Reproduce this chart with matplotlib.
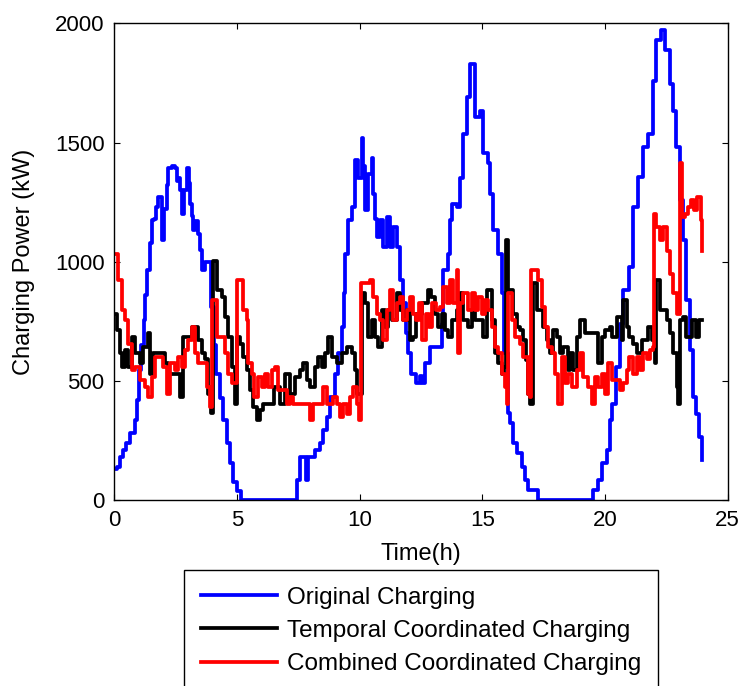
import numpy as np
import matplotlib
matplotlib.use("Agg")
import matplotlib.pyplot as plt

plt.rcParams['font.family'] = ['Liberation Sans', 'DejaVu Sans']

# Original Charging (blue)
t_orig = [0.0, 0.1, 0.25, 0.37, 0.5, 0.65, 0.85, 0.95, 1.0, 1.1, 1.2, 1.27, 1.34, 1.45, 1.55, 1.62, 1.7, 1.8, 1.87,
          1.95, 2.05, 2.15, 2.2, 2.35, 2.48, 2.55, 2.6, 2.7, 2.77, 2.85, 2.97, 3.05, 3.1, 3.16, 3.22, 3.3, 3.42, 3.5,
          3.58, 3.7, 3.9, 3.95, 4.05, 4.15, 4.3, 4.45, 4.6, 4.72, 4.85, 5.0, 5.15, 7.33, 7.45, 7.57, 7.7, 7.8, 7.9,
          8.0, 8.18, 8.38, 8.5, 8.67, 8.8, 9.0, 9.12, 9.28, 9.35, 9.4, 9.53, 9.69, 9.81, 9.94, 10.1, 10.16, 10.22,
          10.34, 10.5, 10.55, 10.65, 10.71, 10.83, 10.95, 11.1, 11.24, 11.36, 11.52, 11.64, 11.77, 11.9, 11.97, 12.1,
          12.3, 12.45, 12.55, 12.66, 12.87, 13.3, 13.35, 13.4, 13.6, 13.68, 13.76, 13.96, 14.09, 14.2, 14.37, 14.5,
          14.62, 14.7, 14.9, 15.02, 15.23, 15.31, 15.43, 15.64, 15.8, 15.9, 16.04, 16.12, 16.25, 16.4, 16.6, 16.74,
          16.86, 17.27, 19.38, 19.5, 19.7, 19.87, 20.07, 20.2, 20.3, 20.47, 20.6, 20.73, 21.0, 21.13, 21.34, 21.54,
          21.74, 21.95, 22.1, 22.3, 22.43, 22.64, 22.76, 22.9, 23.05, 23.17, 23.3, 23.45, 23.57, 23.7, 23.85, 23.97]
p_orig = [130, 140, 180, 210, 240, 280, 335, 420, 545, 650, 755, 860, 965, 1080, 1173, 1180, 1230, 1270, 1270,
          1090, 1220, 1320, 1395, 1400, 1395, 1340, 1353, 1300, 1202, 1300, 1395, 1330, 1244, 1190, 1131, 1170, 1118, 1050,
          964, 1000, 1000, 810, 650, 530, 430, 335, 240, 155, 75, 40, 0, 0, 85, 180, 180, 85, 180,
          180, 210, 240, 293, 348, 432, 530, 615, 725, 870, 1033, 1173, 1228, 1425, 1353, 1521, 1400, 1215,
          1370, 1437, 1286, 1180, 1103, 1173, 1061, 1186, 1061, 1144, 1061, 922, 825, 700, 615, 530,
          490, 520, 490, 574, 641, 641, 740, 964, 1033, 1173, 1244, 1228, 1353, 1536, 1689, 1830,
          1830, 1606, 1634, 1454, 1412, 1286, 1131, 1033, 867, 615, 364, 322, 240, 196, 140, 85,
          42, 0, 0, 42, 85, 155, 210, 335, 405, 558, 740, 880, 977, 1228, 1355, 1480,
          1537, 1760, 1928, 1970, 1886, 1747, 1634, 1480, 1257, 1090, 838, 629, 432, 363, 265, 168]

# Temporal Coordinated Charging (black)
t_temp = [0.0, 0.1, 0.25, 0.32, 0.45, 0.57, 0.72, 0.85, 1.05, 1.18, 1.38, 1.47, 1.6, 1.87, 2.07, 2.2, 2.48, 2.69,
          2.8, 2.97, 3.17, 3.3, 3.42, 3.58, 3.7, 3.83, 3.95, 4.03, 4.18, 4.38, 4.5, 4.65, 4.8, 4.93, 5.0, 5.13, 5.25,
          5.4, 5.53, 5.66, 5.81, 5.94, 6.07, 6.35, 6.5, 6.64, 6.76, 6.96, 7.17, 7.37, 7.57, 7.7, 7.86, 7.98, 8.18,
          8.3, 8.47, 8.6, 8.71, 8.88, 9.08, 9.28, 9.48, 9.69, 9.81, 9.89, 10.02, 10.1, 10.22, 10.34, 10.5, 10.63,
          10.75, 10.9, 11.03, 11.16, 11.32, 11.52, 11.64, 11.77, 11.93, 12.05, 12.18, 12.3, 12.55, 12.77, 12.93,
          13.07, 13.2, 13.35, 13.48, 13.6, 13.76, 13.96, 14.09, 14.2, 14.41, 14.58, 14.7, 14.9, 15.02, 15.19, 15.39,
          15.51, 15.64, 15.8, 15.9, 15.97, 16.05, 16.25, 16.4, 16.53, 16.66, 16.8, 16.86, 16.94, 17.06, 17.22,
          17.35, 17.47, 17.63, 17.75, 17.88, 18.04, 18.16, 18.28, 18.49, 18.57, 18.69, 18.85, 18.97, 19.18, 19.58,
          19.7, 19.87, 19.99, 20.2, 20.3, 20.5, 20.68, 20.73, 20.9, 21.0, 21.13, 21.3, 21.5, 21.74, 21.9, 22.03,
          22.1, 22.23, 22.52, 22.64, 22.76, 22.92, 22.97, 23.05, 23.17, 23.3, 23.55, 23.7, 23.82, 23.95]
p_temp = [780, 712, 615, 558, 628, 558, 684, 615, 574, 641, 700, 530, 615, 615, 574, 530, 530, 432,
          684, 684, 725, 725, 670, 615, 590, 447, 364, 1005, 880, 852, 768, 684, 558, 405, 684, 656, 600,
          545, 460, 390, 335, 377, 405, 405, 475, 475, 405, 530, 447, 517, 545, 574, 503, 475, 558,
          600, 558, 615, 684, 600, 574, 615, 641, 615, 545, 447, 447, 867, 825, 684, 754, 684,
          641, 796, 725, 796, 754, 867, 796, 754, 796, 670, 684, 782, 825, 880, 852,
          782, 725, 782, 712, 684, 754, 796, 867, 754, 725, 796, 754, 754, 684, 880, 754,
          615, 574, 530, 560, 1090, 880, 782, 725, 712, 670, 587, 447, 405, 910, 796,
          796, 725, 670, 615, 712, 684, 615, 641, 545, 615, 545, 684, 754, 700, 700,
          574, 684, 712, 725, 684, 768, 670, 838, 725, 684, 656, 615, 670, 725, 670, 574,
          922, 796, 754, 700, 615, 475, 405, 754, 768, 684, 754, 684, 754, 754]

# Combined Coordinated Charging (red)
t_comb = [0.0, 0.16, 0.32, 0.45, 0.57, 0.72, 0.85, 1.05, 1.26, 1.38, 1.55, 1.67, 1.87, 2.0, 2.16, 2.28, 2.48, 2.6,
          2.77, 2.89, 3.01, 3.17, 3.3, 3.42, 3.62, 3.78, 3.91, 3.98, 4.18, 4.38, 4.5, 4.65, 4.8, 4.93, 5.0, 5.13,
          5.25, 5.4, 5.45, 5.6, 5.72, 5.85, 6.01, 6.14, 6.27, 6.43, 6.55, 6.68, 6.84, 7.05, 7.17, 7.3, 7.86, 7.98,
          8.1, 8.26, 8.38, 8.5, 8.67, 8.8, 8.92, 9.08, 9.2, 9.33, 9.48, 9.61, 9.73, 9.89, 9.98, 10.05, 10.42, 10.55,
          10.71, 10.83, 10.95, 11.1, 11.24, 11.36, 11.52, 11.64, 11.77, 11.93, 12.05, 12.18, 12.3, 12.42, 12.55,
          12.7, 12.83, 12.97, 13.13, 13.27, 13.4, 13.56, 13.68, 13.8, 13.96, 14.0, 14.09, 14.2, 14.41, 14.58, 14.7,
          14.82, 14.98, 15.1, 15.23, 15.39, 15.51, 15.64, 15.8, 15.92, 16.0, 16.04, 16.2, 16.33, 16.53, 16.66, 16.8,
          16.86, 16.94, 17.0, 17.14, 17.27, 17.43, 17.55, 17.67, 17.83, 17.96, 18.08, 18.24, 18.36, 18.49, 18.65,
          18.85, 18.97, 19.1, 19.3, 19.46, 19.58, 19.7, 19.87, 19.99, 20.11, 20.3, 20.47, 20.6, 20.73, 20.9, 21.0,
          21.13, 21.3, 21.42, 21.54, 21.7, 21.83, 21.95, 22.0, 22.1, 22.23, 22.35, 22.52, 22.64, 22.76, 22.92,
          23.05, 23.12, 23.25, 23.37, 23.5, 23.62, 23.75, 23.9, 23.97]
p_comb = [1033, 922, 796, 754, 656, 545, 558, 503, 475, 432, 517, 600, 600, 558, 447, 574, 545, 600,
          558, 628, 670, 725, 615, 574, 574, 475, 390, 838, 684, 684, 615, 530, 490, 490, 922, 922,
          796, 754, 574, 530, 432, 517, 475, 530, 475, 545, 558, 460, 460, 405, 432, 405, 405, 335,
          405, 405, 405, 475, 405, 405, 432, 405, 348, 405, 360, 432, 475, 405, 335, 910, 922, 852,
          782, 754, 670, 796, 880, 754, 825, 852, 754, 796, 852, 782, 754, 825, 670,
          782, 725, 825, 796, 810, 894, 825, 922, 825, 964, 615, 825, 867, 796, 867, 796,
          852, 782, 838, 796, 725, 641, 615, 530, 475, 405, 867, 754, 684, 656, 600, 600,
          447, 432, 964, 964, 922, 810, 725, 641, 615, 530, 405, 600, 490, 530, 475,
          545, 615, 517, 475, 405, 517, 475, 530, 447, 574, 503, 503, 460, 490, 545, 600,
          530, 600, 545, 615, 590, 628, 641, 1202, 1144, 1090, 1144, 1047, 950, 867, 782,
          1412, 1186, 1202, 1228, 1257, 1215, 1270, 1173, 1047]

labels = ['Original Charging', 'Temporal Coordinated Charging', 'Combined Coordinated Charging']

fig = plt.figure(figsize=(7.41, 6.86), dpi=100)
ax = fig.add_axes([0.154, 0.271, 0.828, 0.695])

ax.plot(t_orig, p_orig, color='#0000ff', lw=2.7, drawstyle='steps-post', label=labels[0])
ax.plot(t_temp, p_temp, color='black', lw=2.7, drawstyle='steps-post', label=labels[1])
ax.plot(t_comb, p_comb, color='#ff0000', lw=2.7, drawstyle='steps-post', label=labels[2])

ax.set_xlim(0, 25)
ax.set_ylim(0, 2000)
ax.set_xticks(np.arange(0, 26, 5))
ax.set_yticks(np.arange(0, 2001, 500))
ax.tick_params(direction='in', top=True, right=True, length=4, width=0.8, labelsize=16, pad=7)
for s in ax.spines.values():
    s.set_linewidth(1.0)

ax.set_xlabel('Time(h)', fontsize=17, labelpad=9)
ax.set_ylabel('Charging Power (kW)', fontsize=17, labelpad=14)

leg = ax.legend(loc='upper left', bbox_to_anchor=(184 / 741, 1 - 570 / 686), bbox_transform=fig.transFigure,
                fontsize=17.5, frameon=True, fancybox=False, edgecolor='black', framealpha=1,
                handlelength=3.15, handletextpad=0.4, labelspacing=0.47, borderaxespad=0, borderpad=0.68)
leg.get_frame().set_linewidth(1.0)

fig.savefig('out.png', dpi=100)
